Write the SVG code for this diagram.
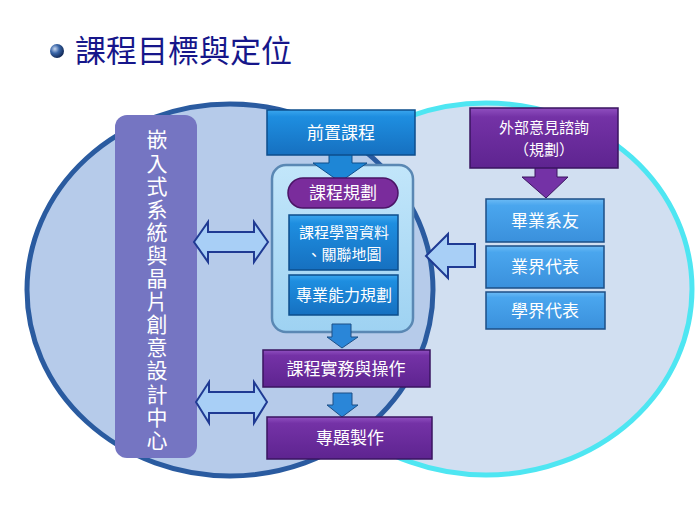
<svg xmlns="http://www.w3.org/2000/svg" width="700" height="525" viewBox="0 0 700 525">
<defs>
  <radialGradient id="ball" cx="0.35" cy="0.35" r="0.7">
    <stop offset="0" stop-color="#C8D8F0"/>
    <stop offset="0.45" stop-color="#3A66A8"/>
    <stop offset="1" stop-color="#0E2450"/>
  </radialGradient>
  <linearGradient id="gBlue" x1="0" y1="0" x2="0" y2="1">
    <stop offset="0" stop-color="#3AA6EE"/>
    <stop offset="0.15" stop-color="#1E8EE0"/>
    <stop offset="1" stop-color="#1670C0"/>
  </linearGradient>
  <linearGradient id="gLight" x1="0" y1="0" x2="0" y2="1">
    <stop offset="0" stop-color="#6CBBF5"/>
    <stop offset="0.15" stop-color="#4AA6EE"/>
    <stop offset="1" stop-color="#3A90DC"/>
  </linearGradient>
  <linearGradient id="gPurple" x1="0" y1="0" x2="0" y2="1">
    <stop offset="0" stop-color="#9050C0"/>
    <stop offset="0.15" stop-color="#7432A6"/>
    <stop offset="1" stop-color="#5E2490"/>
  </linearGradient>
  <linearGradient id="gCont" x1="0" y1="0" x2="0" y2="1">
    <stop offset="0" stop-color="#C2E6FA"/>
    <stop offset="1" stop-color="#9ED2F2"/>
  </linearGradient>
  <style>
    text { font-family: "Noto Sans CJK TC", "Noto Sans CJK SC", sans-serif; fill: #FFFFFF; text-anchor: middle; }
    .title { fill: #16168A; font-size: 31px; text-anchor: start; }
    .lbl { font-size: 16px; }
    .lbl15 { font-size: 15px; }
    .lbl2 { font-size: 17px; }
    .vert { font-size: 21px; writing-mode: vertical-rl; text-anchor: start; letter-spacing: 2.1px; }
    .bBlue { fill: url(#gBlue); stroke: #0D4E8C; stroke-width: 1.5; }
    .bLight { fill: url(#gLight); stroke: #1D4F86; stroke-width: 1.5; }
    .bPurple { fill: url(#gPurple); stroke: #3A1460; stroke-width: 1.5; }
    .dbl { fill: #A8CFF6; stroke: #1F3A93; stroke-width: 2; stroke-linejoin: miter; }
  </style>
</defs>

<rect width="700" height="525" fill="#FFFFFF"/>

<g id="title">
  <circle cx="57" cy="51" r="7" fill="url(#ball)"/>
  <text class="title" x="75" y="62">課程目標與定位</text>
</g>

<g id="circle-right">
  <ellipse cx="486" cy="289" rx="206" ry="186" fill="#D1DFF1" stroke="#4EE6F2" stroke-width="5"/>
</g>
<g id="circle-left">
  <ellipse cx="230" cy="290" rx="203" ry="186" fill="#B6CBEA" stroke="#2A5BA0" stroke-width="5"/>
</g>

<g id="center-vertical">
  <rect x="115" y="115" width="82" height="343" rx="12" fill="#7575C2"/>
  <text class="vert" x="157" y="129">嵌入式系統與晶片創意設計中心</text>
</g>

<g id="container">
  <rect x="272" y="165" width="141" height="167" rx="14" fill="url(#gCont)" stroke="#5A88B4" stroke-width="2.5"/>
</g>

<g id="connectors">
  <polygon points="329,154 352,154 352,163 367,163 340,182 313,163 329,163" fill="#1E86D6" stroke="#0D4E8C" stroke-width="1"/>
  <polygon points="332,324 351,324 351,337 358,337 342,348 327,337 332,337" fill="#2A86D8" stroke="#1D4F86" stroke-width="1"/>
  <polygon points="333,393 352,393 352,405 358,405 342,417 327,405 333,405" fill="#2A86D8" stroke="#1D4F86" stroke-width="1"/>
  <polygon points="535,167 557,167 557,177 568,177 546,198 522,177 535,177" fill="#7432A6" stroke="#3A1460" stroke-width="1"/>
  <polygon class="dbl" points="194,242 208,222 208,232 254,232 254,222 268,242 254,262 254,252 208,252 208,262"/>
  <polygon class="dbl" points="196,402 209,382 209,392 254,392 254,382 267,402 254,423 254,413 209,413 209,423"/>
  <polygon class="dbl" points="426,256 448,234 448,244 475,244 475,267 448,267 448,278"/>
</g>

<g id="node-prereq">
  <rect class="bBlue" x="267" y="110" width="148" height="45"/>
  <text class="lbl2" x="341" y="139">前置課程</text>
</g>

<g id="node-planning">
  <rect x="288" y="178" width="110" height="30" rx="15" fill="#7A2C9C" stroke="#4A1466" stroke-width="1.5"/>
  <text class="lbl2" x="343" y="199">課程規劃</text>
</g>

<g id="node-data">
  <rect class="bBlue" x="289" y="215" width="109" height="55"/>
  <text class="lbl15" x="344" y="238"><tspan x="344">課程學習資料</tspan><tspan x="344" dy="22">、關聯地圖</tspan></text>
</g>

<g id="node-ability">
  <rect class="bBlue" x="289" y="275" width="109" height="40"/>
  <text class="lbl" x="344" y="301">專業能力規劃</text>
</g>

<g id="node-practice">
  <rect class="bPurple" x="263" y="350" width="167" height="37"/>
  <text class="lbl2" x="346" y="375">課程實務與操作</text>
</g>

<g id="node-project">
  <rect class="bPurple" x="267" y="417" width="165" height="42"/>
  <text class="lbl2" x="350" y="444">專題製作</text>
</g>

<g id="node-external">
  <rect class="bPurple" x="470" y="108" width="148" height="60"/>
  <text class="lbl15" x="544" y="133"><tspan x="544">外部意見諮詢</tspan><tspan x="544" dy="22">（規劃）</tspan></text>
</g>

<g id="node-alumni">
  <rect class="bLight" x="486" y="199" width="118" height="43"/>
  <text class="lbl2" x="545" y="227">畢業系友</text>
</g>

<g id="node-industry">
  <rect class="bLight" x="486" y="246" width="118" height="42"/>
  <text class="lbl2" x="545" y="273">業界代表</text>
</g>

<g id="node-academia">
  <rect class="bLight" x="486" y="292" width="119" height="37"/>
  <text class="lbl2" x="545" y="317">學界代表</text>
</g>
</svg>
